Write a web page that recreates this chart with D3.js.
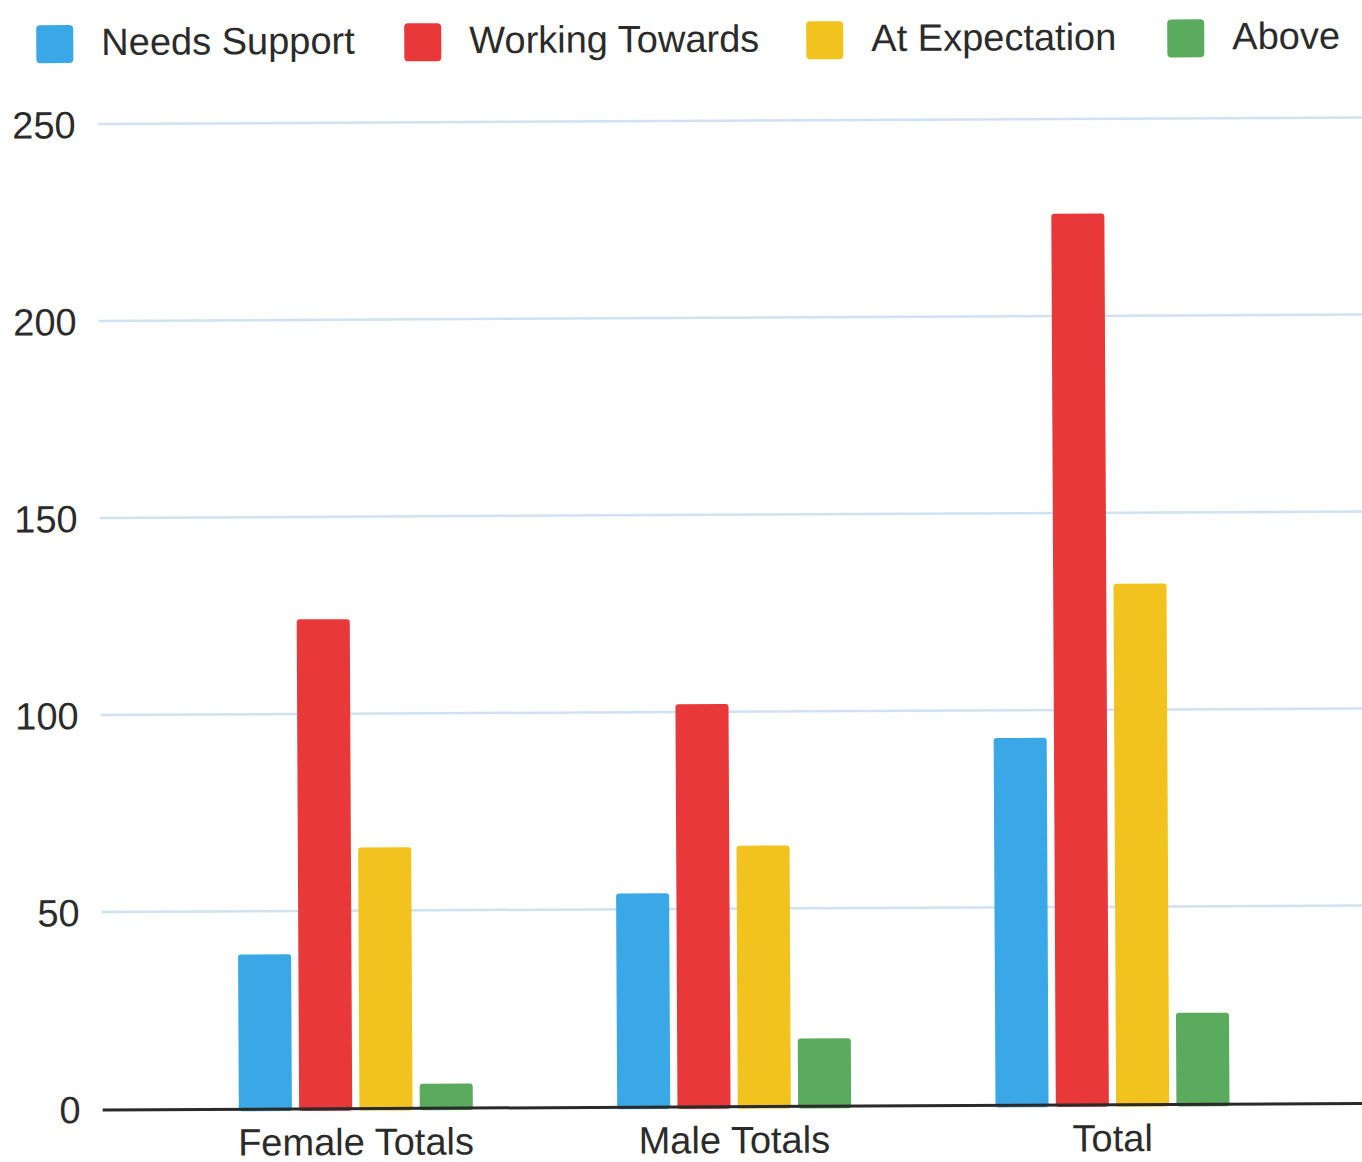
<!DOCTYPE html>
<html>
<head>
<meta charset="utf-8">
<script src="https://cdn.jsdelivr.net/npm/d3@7"></script>
<style>
  html, body { margin: 0; padding: 0; background: #ffffff; }
  svg { display: block; }
  text { font-family: "Liberation Sans", Arial, sans-serif; fill: #2b2b2b; }
</style>
</head>
<body>
<svg id="chart" width="1362" height="1162"></svg>
<script>
// Assessment counts per group
const categories = ["Female Totals", "Male Totals", "Total"];
const seriesNames = ["Needs Support", "Working Towards", "At Expectation", "Above"];
const needsSupport   = [39, 54, 93];
const workingTowards = [124, 102, 226];
const atExpectation  = [66, 66, 132];
const above          = [6, 17, 23];
const yTicks = [0, 50, 100, 150, 200, 250];

const seriesValues = [needsSupport, workingTowards, atExpectation, above];
const colors = ["#3aa8e6", "#e8383a", "#f2c21e", "#5bab5e"];

const W = 1362, H = 1162;
const FONT = 38;
const svg = d3.select("#chart");
// whole chart sits at a very slight tilt
const root = svg.append("g").attr("transform", `rotate(-0.29, ${W / 2}, ${H / 2})`);

const plot = { left: 100, right: 1362, top: 121, bottom: 1106 };

const y = d3.scaleLinear().domain([0, 250]).range([plot.bottom, plot.top]);
const x0 = d3.scaleBand().domain(categories).range([164, 1299]).paddingInner(0).paddingOuter(0);
const x1 = d3.scaleBand().domain(seriesNames).range([-117, 117]).paddingInner(0.12).paddingOuter(0);

// Gridlines
root.append("g")
  .selectAll("line")
  .data(yTicks.filter(t => t > 0))
  .join("line")
  .attr("x1", plot.left).attr("x2", plot.right + 10)
  .attr("y1", d => y(d)).attr("y2", d => y(d))
  .attr("stroke", "#cfe2f3").attr("stroke-width", 2.5);

// Y axis labels
const yAxis = d3.axisLeft(y).tickValues(yTicks).tickSize(0).tickPadding(0);
const yG = root.append("g").attr("transform", "translate(78,0)").call(yAxis);
yG.select(".domain").remove();
yG.selectAll("text")
  .attr("font-size", FONT)
  .attr("fill", "#2b2b2b")
  .attr("dy", "0.36em")
  .style("font-family", "'Liberation Sans', Arial, sans-serif");

// Bars
const rows = categories.map((c, i) => ({
  cat: c,
  vals: seriesNames.map((s, j) => ({ series: s, value: seriesValues[j][i], color: colors[j] }))
}));

const groups = root.append("g")
  .selectAll("g")
  .data(rows)
  .join("g")
  .attr("transform", d => `translate(${x0(d.cat) + x0.bandwidth() / 2},0)`);

groups.selectAll("rect")
  .data(d => d.vals)
  .join("rect")
  .attr("x", d => x1(d.series))
  .attr("width", x1.bandwidth())
  .attr("y", d => y(d.value))
  .attr("height", d => y(0) - y(d.value) + 3)
  .attr("rx", 3)
  .attr("fill", d => d.color);

// Baseline
root.append("line")
  .attr("x1", plot.left).attr("x2", plot.right + 10)
  .attr("y1", y(0) + 1).attr("y2", y(0) + 1)
  .attr("stroke", "#2a2a2a").attr("stroke-width", 3);

// X axis labels
const xAxis = d3.axisBottom(x0).tickSize(0).tickPadding(0);
const xG = root.append("g").attr("transform", `translate(0,${y(0) + 20})`).call(xAxis);
xG.select(".domain").remove();
xG.selectAll("text")
  .attr("font-size", FONT)
  .attr("fill", "#2b2b2b")
  .attr("dy", "0.72em")
  .style("font-family", "'Liberation Sans', Arial, sans-serif");

// Legend
const legendX = [39, 407, 809, 1170];
const legend = root.append("g")
  .selectAll("g")
  .data(seriesNames)
  .join("g")
  .attr("transform", (d, i) => `translate(${legendX[i]},22)`);
legend.append("rect")
  .attr("width", 37).attr("height", 38).attr("rx", 4)
  .attr("fill", (d, i) => colors[i]);
legend.append("text")
  .attr("x", 65).attr("y", 30)
  .attr("font-size", FONT)
  .text(d => d);
</script>
</body>
</html>
